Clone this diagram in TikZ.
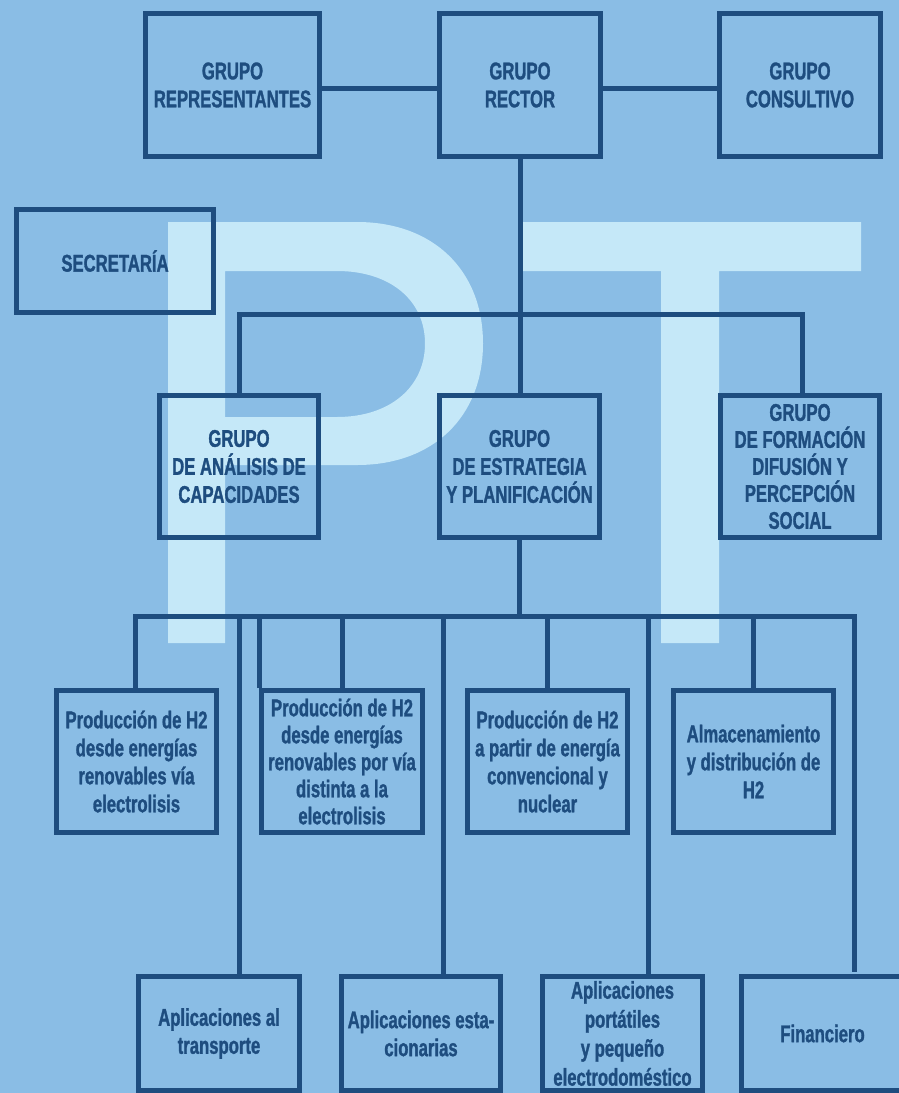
\documentclass[tikz,border=0pt]{standalone}
\usepackage{fontspec}
\newfontfamily\cf[FakeStretch=0.69,FakeBold=1.2]{Liberation Sans}
\definecolor{bg}{HTML}{8ABDE5}
\definecolor{dk}{HTML}{1E4D7F}
\definecolor{wm}{HTML}{C5E8F8}
\begin{document}
\begin{tikzpicture}[x=1pt,y=-1pt,
  box/.style={draw=dk, line width=5pt, inner sep=0pt, align=center, text=dk,
    font=\cf\bfseries\fontsize{24.2}{28}\selectfont,
    minimum width=160pt, minimum height=142pt},
  tight/.style={font=\cf\bfseries\fontsize{24.2}{27}\selectfont},
  loose/.style={font=\cf\bfseries\fontsize{24.2}{29}\selectfont},
  conn/.style={draw=dk, line width=5pt}]
\useasboundingbox (0,0) rectangle (899,1093);
\begin{scope}
\clip (0,0) rectangle (899,1093);
\fill[bg] (0,0) rectangle (899,1093);
% watermark P
\fill[wm, even odd rule]
  (168,222) -- (357,222) .. controls (433,222) and (483,270) .. (483,343.5)
  .. controls (483,417) and (433,465) .. (357,465) -- (225,465) -- (225,643) -- (168,643) -- cycle
  (225,271) -- (337,271) .. controls (390,271) and (425,300) .. (425,343.5)
  .. controls (425,387) and (390,417) .. (337,417) -- (225,417) -- cycle;
% watermark T
\fill[wm] (520,222) -- (861,222) -- (861,271) -- (719,271) -- (719,643) -- (661,643) -- (661,271) -- (520,271) -- cycle;

% top row
\node[box, minimum width=174pt, minimum height=143pt] (rep) at (232.5,85) {GRUPO\\REPRESENTANTES};
\node[box, minimum width=161pt, minimum height=143pt] (rector) at (520,85) {GRUPO\\RECTOR};
\node[box, minimum width=161pt, minimum height=143pt] (consult) at (800,85) {GRUPO\\CONSULTIVO};
\node[box, minimum width=197pt, minimum height=103pt] (secr) at (115,261) {SECRETARÍA};

% middle row
\node[box, minimum width=159pt] (ana) at (239,466.5) {GRUPO\\DE ANÁLISIS DE\\CAPACIDADES};
\node[box] (estr) at (519.5,466.5) {GRUPO\\DE ESTRATEGIA\\Y PLANIFICACIÓN};
\node[box, tight, minimum width=159pt] (form) at (800,466.5) {GRUPO\\DE FORMACIÓN\\DIFUSIÓN Y\\PERCEPCIÓN\\SOCIAL};

% work groups
\node[box] (p1) at (136.5,761.5) {Producción de H2\\desde energías\\renovables vía\\electrolisis};
\node[box, tight, minimum width=161pt] (p2) at (342,761.5) {Producción de H2\\desde energías\\renovables por vía\\distinta a la\\electrolisis};
\node[box] (p3) at (547.5,761.5) {Producción de H2\\a partir de energía\\convencional y\\nuclear};
\node[box] (p4) at (753.5,761.5) {Almacenamiento\\y distribución de\\H2};

% applications
\node[box, minimum width=161pt, minimum height=114pt] (a1) at (219,1033.5) {Aplicaciones al\\transporte};
\node[box, minimum width=159pt, minimum height=114pt] (a2) at (421,1033.5) {Aplicaciones esta-\\cionarias};
\node[box, loose, minimum height=114pt] (a3) at (622.5,1033.5) {Aplicaciones\\portátiles\\y pequeño\\electrodoméstico};
\node[box, minimum width=162pt, minimum height=114pt] (a4) at (822.5,1033.5) {Financiero};

% top connectors
\draw[conn] ([yshift=-3.3pt]rep.east) -- ([yshift=-3.3pt]rector.west);
\draw[conn] ([yshift=-3.3pt]rector.east) -- ([yshift=-3.3pt]consult.west);
\draw[conn] (rector.south) -- (rector.south |- estr.north);

% first bar
\coordinate (b1L) at (239,314);
\coordinate (b1R) at (802.5,314);
\draw[conn] (ana.north) -- (b1L) -- (b1R) -- (b1R |- form.north);

% second bar
\coordinate (b2L) at (135.2,616);
\coordinate (b2R) at (854.5,616);
\coordinate (d4) at (854.5,972);
\draw[conn] (b2L |- p1.north) -- (b2L) -- (b2R) -- (d4);
\draw[conn] (estr.south) -- (estr.south |- b2L);
\coordinate (t1) at (239,616);
\coordinate (t2) at (443.5,616);
\coordinate (t3) at (648,616);
\draw[conn] (t1) -- (t1 |- a1.north);
\draw[conn] (t2) -- (t2 |- a2.north);
\draw[conn] (t3) -- (t3 |- a3.north);
\draw[conn] (p2.north west) -- (p2.north west |- b2L);
\draw[conn] (p2.north) -- (p2.north |- b2L);
\draw[conn] (p3.north) -- (p3.north |- b2L);
\draw[conn] (p4.north) -- (p4.north |- b2L);
\end{scope}
\end{tikzpicture}
\end{document}
